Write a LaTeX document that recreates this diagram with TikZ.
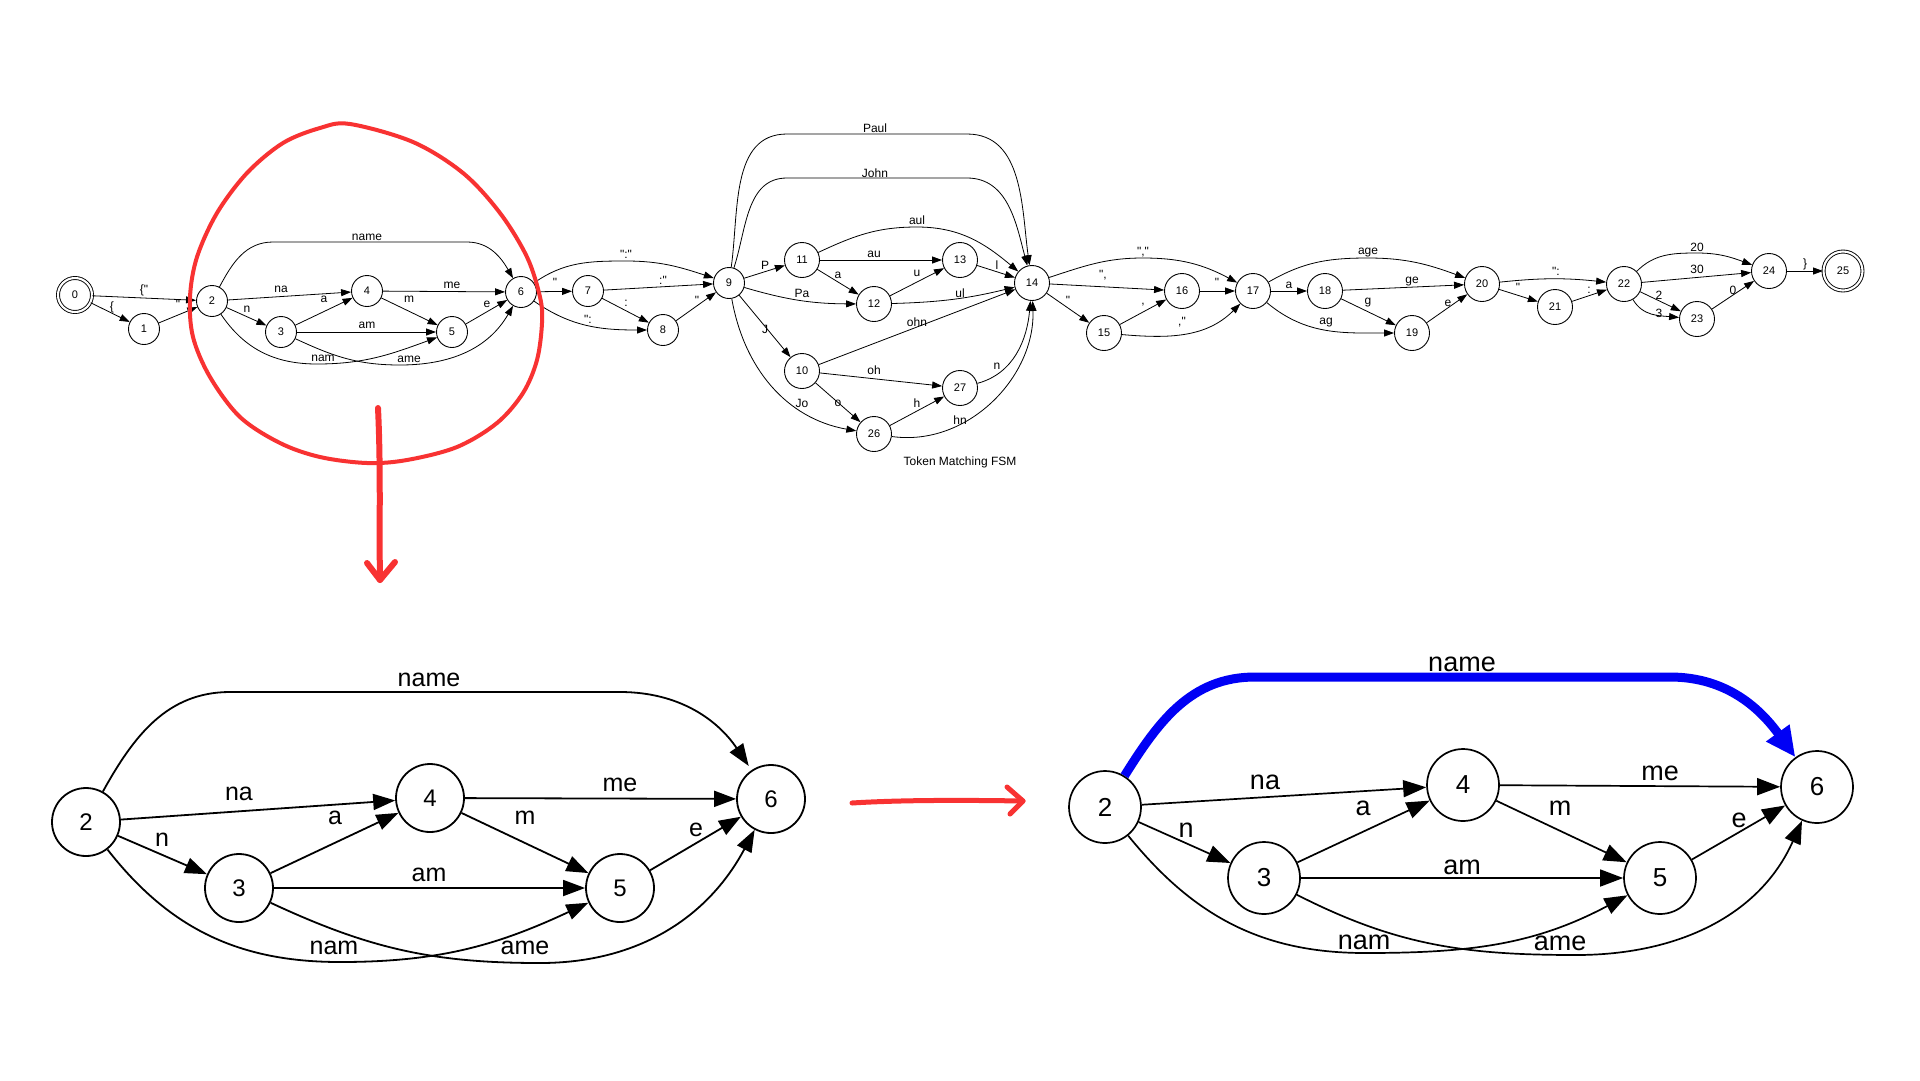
\documentclass[tikz,border=0pt]{standalone}
\usepackage{fontspec}
\newfontfamily\hv{Liberation Sans}
\usetikzlibrary{arrows.meta}
\definecolor{pen}{RGB}{248,50,50}
\definecolor{hl}{RGB}{0,0,245}
\begin{document}
\begin{tikzpicture}[x=1pt,y=1pt,
  tn/.style={circle,draw,line width=0.9,minimum size=31,inner sep=0,font=\hv\fontsize{11}{13}\selectfont},
  tnd/.style={tn,minimum size=35},
  tacc/.style={tn,double,double distance=2.1},
  ta/.style={-{Triangle[length=10,width=7]},line width=0.8},
  tl/.style={font=\hv\fontsize{12}{14}\selectfont,inner sep=0},
  bn/.style={circle,draw,line width=1.8,minimum size=68,inner sep=0,font=\hv\fontsize{24}{28}\selectfont},
  ba/.style={-{Triangle[length=22,width=16]},line width=1.8},
  bl/.style={font=\hv\fontsize{25}{30}\selectfont,inner sep=0},
  rn/.style={circle,draw,line width=1.7,minimum size=72,inner sep=0,font=\hv\fontsize{26}{30}\selectfont},
  ra/.style={-{Triangle[length=23,width=17]},line width=1.7},
  rl/.style={font=\hv\fontsize{27}{32}\selectfont,inner sep=0},
  blu/.style={-{Triangle[length=30,width=27]},line width=9,draw=hl},
  redpen/.style={draw=pen,line cap=round,line join=round}
]
\useasboundingbox (0,0) rectangle (1920,-1080);
\fill[white] (0,0) rectangle (1920,-1080);

% ---------------- top FSM: nodes ----------------
\node[tacc,minimum size=34] (n0) at (75,-295) {0};
\node[tn] (n1) at (144,-329) {1};
\node[tn] (n2) at (212,-301) {2};
\node[tn] (n3) at (281,-332) {3};
\node[tn] (n4) at (367,-291) {4};
\node[tn] (n5) at (452,-332) {5};
\node[tn] (n6) at (521,-292) {6};
\node[tn] (n7) at (588,-291) {7};
\node[tn] (n8) at (663,-330) {8};
\node[tn] (n9) at (729,-283) {9};
\node[tnd] (n10) at (802,-371) {10};
\node[tnd] (n11) at (802,-260) {11};
\node[tnd] (n12) at (874,-304) {12};
\node[tnd] (n13) at (960,-260) {13};
\node[tnd] (n14) at (1032,-283) {14};
\node[tnd] (n15) at (1104,-333) {15};
\node[tnd] (n16) at (1182,-291) {16};
\node[tnd] (n17) at (1253,-291) {17};
\node[tnd] (n18) at (1325,-291) {18};
\node[tnd] (n19) at (1412,-333) {19};
\node[tnd] (n20) at (1482,-284) {20};
\node[tnd] (n21) at (1555,-307) {21};
\node[tnd] (n22) at (1624,-284) {22};
\node[tnd] (n23) at (1697,-319) {23};
\node[tnd] (n24) at (1769,-271) {24};
\node[tacc,minimum size=39] (n25) at (1843,-271) {25};
\node[tnd] (n26) at (874,-434) {26};
\node[tnd] (n27) at (960,-388) {27};

% ---------------- top FSM: edges ----------------
\draw[ta] (n0) -- (n2);
\draw[ta] (n0) -- (n1);
\draw[ta] (n1) -- (n2);
\draw[ta] (n2) to[out=62,in=180] (273,-242) -- (467,-242) to[out=0,in=120] (n6);
\draw[ta] (n2) -- (n4);
\draw[ta] (n2) -- (n3);
\draw[ta] (n3) -- (n4);
\draw[ta] (n4) -- (n6);
\draw[ta] (n4) -- (n5);
\draw[ta] (n3) -- (n5);
\draw[ta] (n5) -- (n6);
\draw[ta] (n2) to[out=-56,in=180] (317,-364) to[out=0,in=200] (n5);
\draw[ta] (n3) to[out=-25,in=180] (400,-365) to[out=0,in=240] (n6);

\draw[ta] (n6) to[out=35,in=180] (626,-261) to[out=0,in=162] (n9);
\draw[ta] (n6) -- (n7);
\draw[ta] (n7) -- (n9);
\draw[ta] (n7) -- (n8);
\draw[ta] (n6) to[out=-35,in=180] (n8);
\draw[ta] (n8) -- (n9);

\draw[ta] (n9) to[out=82,in=180] (787,-134) -- (967,-134) to[out=0,in=98] (n14);
\draw[ta] (n9) to[out=72,in=180] (787,-178) -- (967,-178) to[out=0,in=105] (n14);
\draw[ta] (n9) -- (n11);
\draw[ta] (n11) to[out=25,in=180] (917,-227) to[out=0,in=140] (n14);
\draw[ta] (n11) -- (n13);
\draw[ta] (n11) -- (n12);
\draw[ta] (n12) -- (n13);
\draw[ta] (n13) -- (n14);
\draw[ta] (n9) to[bend right=8] (n12);
\draw[ta] (n12) to[bend right=6] (n14);
\draw[ta] (n9) -- (n10);
\draw[ta] (n10) -- (n14);
\draw[ta] (n10) -- (n27);
\draw[ta] (n10) -- (n26);
\draw[ta] (n9) to[out=-80,in=170] (n26);
\draw[ta] (n26) -- (n27);
\draw[ta] (n27) to[out=15,in=-95] (n14);
\draw[ta] (n26) to[out=-8,in=-88] (n14);

\draw[ta] (n14) to[out=18,in=180] (1143,-258) to[out=0,in=152] (n17);
\draw[ta] (n14) -- (n16);
\draw[ta] (n14) -- (n15);
\draw[ta] (n15) -- (n16);
\draw[ta] (n15) to[out=-5,in=225] (n17);
\draw[ta] (n16) -- (n17);
\draw[ta] (n17) -- (n18);
\draw[ta] (n17) to[out=30,in=180] (1368,-258) to[out=0,in=160] (n20);
\draw[ta] (n18) -- (n20);
\draw[ta] (n18) -- (n19);
\draw[ta] (n17) to[out=-40,in=180] (n19);
\draw[ta] (n19) -- (n20);
\draw[ta] (n20) to[bend left=6] (n22);
\draw[ta] (n20) -- (n21);
\draw[ta] (n21) -- (n22);
\draw[ta] (n22) to[out=45,in=180] (1697,-253) to[out=0,in=160] (n24);
\draw[ta] (n22) -- (n24);
\draw[ta] (n22) -- (n23);
\draw[ta] (n22) to[out=-60,in=175] (n23);
\draw[ta] (n23) -- (n24);
\draw[ta] (n24) -- (n25);

% ---------------- top FSM: labels ----------------
\node[tl] (t01) at (144,-290) {\{"};
\node[tl] (t02) at (112,-307) {\{};
\node[tl] (t03) at (178,-304) {"};
\node[tl] (t04) at (367,-237) {name};
\node[tl] (t05) at (281,-289) {na};
\node[tl] (t06) at (247,-309) {n};
\node[tl] (t07) at (324,-299) {a};
\node[tl] (t08) at (452,-285) {me};
\node[tl] (t09) at (409,-299) {m};
\node[tl] (t10) at (367,-325) {am};
\node[tl] (t11) at (487,-304) {e};
\node[tl] (t12) at (323,-358) {nam};
\node[tl] (t13) at (409,-359) {ame};
\node[tl] (t14) at (626,-254) {":"};
\node[tl] (t15) at (555,-282) {"};
\node[tl] (t16) at (663,-280) {:"};
\node[tl] (t17) at (626,-303) {:};
\node[tl] (t18) at (588,-319) {":};
\node[tl] (t19) at (697,-300) {"};
\node[tl] (t20) at (875,-128) {Paul};
\node[tl] (t21) at (875,-173) {John};
\node[tl] (t22) at (917,-220) {aul};
\node[tl] (t23) at (765,-265) {P};
\node[tl] (t24) at (874,-254) {au};
\node[tl] (t25) at (838,-275) {a};
\node[tl] (t26) at (917,-273) {u};
\node[tl] (t27) at (997,-265) {l};
\node[tl] (t28) at (802,-293) {Pa};
\node[tl] (t29) at (960,-293) {ul};
\node[tl] (t30) at (917,-322) {ohn};
\node[tl] (t31) at (765,-329) {J};
\node[tl] (t32) at (874,-370) {oh};
\node[tl] (t33) at (997,-366) {n};
\node[tl] (t34) at (802,-403) {Jo};
\node[tl] (t35) at (838,-403) {o};
\node[tl] (t36) at (917,-403) {h};
\node[tl] (t37) at (960,-420) {hn};
\node[tl] (t38) at (1143,-252) {","};
\node[tl] (t39) at (1103,-275) {",};
\node[tl] (t40) at (1068,-300) {"};
\node[tl] (t41) at (1143,-305) {,};
\node[tl] (t42) at (1182,-322) {,"};
\node[tl] (t43) at (1217,-282) {"};
\node[tl] (t44) at (1289,-285) {a};
\node[tl] (t45) at (1368,-253) {age};
\node[tl] (t46) at (1412,-282) {ge};
\node[tl] (t47) at (1368,-303) {g};
\node[tl] (t48) at (1326,-323) {ag};
\node[tl] (t49) at (1448,-303) {e};
\node[tl] (t50) at (1556,-271) {":};
\node[tl] (t51) at (1518,-287) {"};
\node[tl] (t52) at (1589,-290) {:};
\node[tl] (t53) at (1697,-247) {20};
\node[tl] (t54) at (1697,-269) {30};
\node[tl] (t55) at (1659,-295) {2};
\node[tl] (t56) at (1659,-313) {3};
\node[tl] (t57) at (1733,-290) {0};
\node[tl] (t58) at (1805,-264) {\}};
\node[tl] (cap) at (960,-462) {Token Matching FSM};

% ---------------- bottom left ----------------
\node[bn] (L2) at (86,-822) {2};
\node[bn] (L4) at (430,-798) {4};
\node[bn] (L6) at (771,-799) {6};
\node[bn] (L3) at (239,-888) {3};
\node[bn] (L5) at (620,-888) {5};
\draw[ba,shorten >=5] (L2) to[out=61,in=180] (230,-692) -- (620,-692) to[out=0,in=124] (L6);
\draw[ba] (L2) -- (L4);
\draw[ba] (L2) -- (L3);
\draw[ba] (L3) -- (L4);
\draw[ba] (L4) -- (L6);
\draw[ba] (L4) -- (L5);
\draw[ba] (L3) -- (L5);
\draw[ba] (L5) -- (L6);
\draw[ba] (L2) to[out=-52,in=180] (340,-962) to[out=0,in=205] (L5);
\draw[ba] (L3) to[out=-25,in=180] (540,-963) to[out=0,in=242] (L6);
\node[bl] (b1) at (429,-680) {name};
\node[bl] (b2) at (239,-794) {na};
\node[bl] (b3) at (162,-840) {n};
\node[bl] (b4) at (335,-818) {a};
\node[bl] (b5) at (620,-785) {me};
\node[bl] (b6) at (525,-818) {m};
\node[bl] (b7) at (429,-875) {am};
\node[bl] (b8) at (696,-830) {e};
\node[bl] (b9) at (334,-948) {nam};
\node[bl] (b10) at (525,-948) {ame};

% ---------------- bottom right ----------------
\node[rn] (R2) at (1105,-807) {2};
\node[rn] (R4) at (1463,-785) {4};
\node[rn] (R6) at (1817,-787) {6};
\node[rn] (R3) at (1264,-878) {3};
\node[rn] (R5) at (1660,-878) {5};
\draw[blu] (R2) to[out=58,in=180] (1255,-677) -- (1670,-677) to[out=0,in=126] (R6);
\draw[ra] (R2) -- (R4);
\draw[ra] (R2) -- (R3);
\draw[ra] (R3) -- (R4);
\draw[ra] (R4) -- (R6);
\draw[ra] (R4) -- (R5);
\draw[ra] (R3) -- (R5);
\draw[ra] (R5) -- (R6);
\draw[ra] (R2) to[out=-51,in=180] (1365,-953) to[out=0,in=208] (R5);
\draw[ra] (R3) to[out=-27,in=180] (1576,-955) to[out=0,in=246] (R6);
\node[rl] (r1) at (1462,-664) {name};
\node[rl] (r2) at (1265,-782) {na};
\node[rl] (r3) at (1186,-830) {n};
\node[rl] (r4) at (1363,-808) {a};
\node[rl] (r5) at (1660,-773) {me};
\node[rl] (r6) at (1560,-808) {m};
\node[rl] (r7) at (1462,-867) {am};
\node[rl] (r8) at (1739,-820) {e};
\node[rl] (r9) at (1364,-942) {nam};
\node[rl] (r10) at (1560,-943) {ame};

% ---------------- red annotations ----------------
\draw[redpen,line width=4] plot[smooth cycle,tension=0.55] coordinates {
 (350,-124) (413,-142) (463,-173) (500,-213) (527,-257) (540,-297) (542,-323)
 (537,-360) (523,-393) (497,-423) (457,-447) (407,-460) (367,-463) (320,-457)
 (280,-443) (240,-417) (210,-377) (193,-337) (190,-297) (197,-257) (217,-213)
 (247,-173) (283,-143) (320,-128)};
\coordinate (da1) at (378,-408);
\coordinate (da2) at (380,-580);
\draw[redpen,line width=6] (da1) .. controls (381,-470) and (379,-530) .. (da2);
\draw[redpen,line width=6] (367,-563) -- (da2) -- (395,-562);
\coordinate (ha1) at (852,-803);
\coordinate (ha2) at (1023,-801);
\draw[redpen,line width=5] (ha1) .. controls (900,-800) and (960,-800) .. (ha2);
\draw[redpen,line width=5] (1007,-787) -- (ha2) -- (1010,-814);
\end{tikzpicture}
\end{document}
